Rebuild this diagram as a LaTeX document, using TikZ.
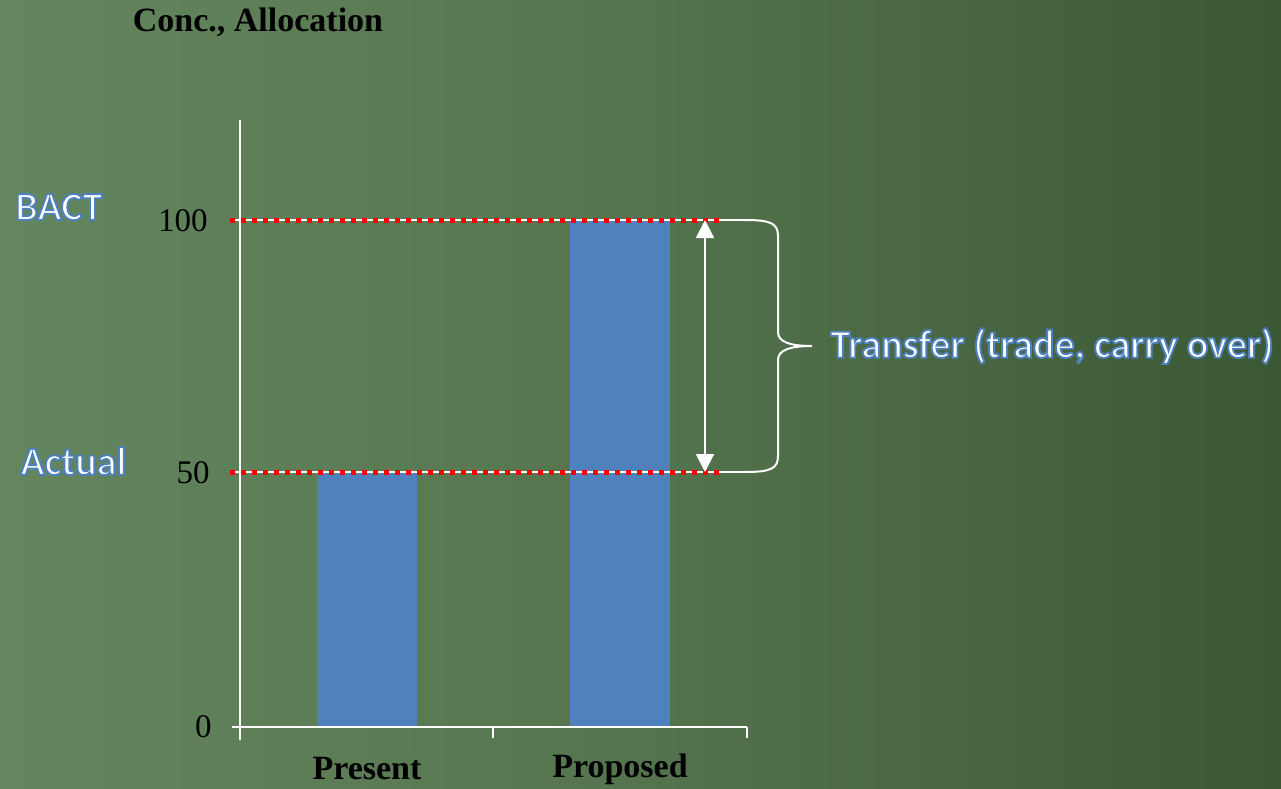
\documentclass[tikz,border=0pt]{standalone}
\usepackage{fontspec}
\setmainfont{Liberation Serif}
\newfontfamily\calfont{Carlito}
\usetikzlibrary{arrows.meta,positioning}

\definecolor{boardlight}{RGB}{100,134,94}
\definecolor{boardmid}{RGB}{84,116,78}
\definecolor{boarddark}{RGB}{58,88,52}
\definecolor{barblue}{RGB}{79,129,189}

\tikzset{
  ticklbl/.style={font=\fontsize{16.5}{18}\selectfont, anchor=east, inner sep=0pt},
  catlbl/.style={font=\fontsize{17}{19}\selectfont\bfseries, inner sep=0pt},
  chalklbl/.style={font=\fontsize{20}{23}\selectfont\calfont\bfseries, text=white, inner sep=0pt},
  axisline/.style={white, line width=1pt},
  gridwhite/.style={white, line width=0.9pt},
  reddots/.style={red, line width=2.5pt, dash pattern=on 2.5pt off 3pt},
}
% white letters with a blue rim (fill + stroke render mode)
\newcommand{\chalk}[1]{\special{pdf:literal direct 2 Tr 0.95 w 0.31 0.506 0.741 RG}#1\special{pdf:literal direct 0 Tr}}

\begin{document}
\begin{tikzpicture}[x=0.5pt,y=-0.5pt]
  % board
  \shade[left color=boardlight, right color=boarddark, middle color=boardmid] (0,0) rectangle (1281,788);
  \useasboundingbox (0,0) rectangle (1281,788);

  % bars
  \fill[barblue] (317,472) rectangle (417,727);
  \fill[barblue] (570,220) rectangle (670,727);

  % axes
  \draw[axisline] (240,120) -- (240,740);
  \draw[axisline] (232,727) -- (747,727);
  \draw[axisline] (493,727) -- (493,738);
  \draw[axisline] (747,727) -- (747,738);

  % levels
  \draw[gridwhite] (230,220) -- (748,220);
  \draw[gridwhite] (230,472) -- (748,472);
  \draw[reddots] (230,220) -- (722,220);
  \draw[reddots] (230,472) -- (722,472);

  \node[ticklbl] (t0) at (212,727) {0};
  \node[ticklbl] (t50) at (210,473) {50};
  \node[ticklbl] (t100) at (208,221) {100};

  \node[catlbl] (title) at (258,22) {Conc., Allocation};
  \node[catlbl] (present) at (367,769) {Present};
  \node[catlbl] (proposed) at (620,769) {Proposed};

  \node[chalklbl, anchor=west] (bact) at (15,207) {\chalk{BACT}};
  \node[chalklbl, anchor=west] (actual) at (20,461) {\chalk{Actual}};
  \node[chalklbl, anchor=west] (xfer) at (830,346) {\chalk{Transfer (trade, carry over)}};

  % transfer arrow and brace
  \coordinate (uptop) at (705,220);
  \coordinate (upbot) at (705,472);
  \draw[white, line width=1pt, {Triangle[width=9pt,length=9pt]}-{Triangle[width=9pt,length=9pt]}] (uptop) -- (upbot);
  \coordinate (brtip) at (812,346);
  \draw[white, line width=1pt] (745,220) .. controls (770,220) and (778,223) .. (778,236) -- (778,332)
    .. controls (778,342) and (790,346) .. (brtip)
    .. controls (790,346) and (778,350) .. (778,360) -- (778,456)
    .. controls (778,469) and (770,472) .. (745,472);
\end{tikzpicture}
\end{document}
